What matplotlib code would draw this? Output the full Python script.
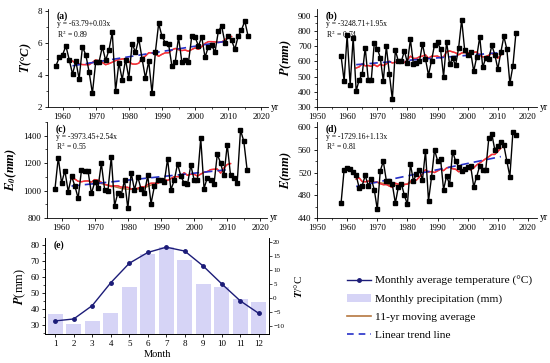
import numpy as np
import matplotlib
matplotlib.use("Agg")
import matplotlib.pyplot as plt
from matplotlib.lines import Line2D
from matplotlib.patches import Patch
from matplotlib.ticker import MultipleLocator

plt.rcParams['font.family'] = ['Liberation Serif', 'DejaVu Serif']
plt.rcParams['mathtext.fontset'] = 'stix'

years = np.arange(1958, 2017)

# annual mean temperature (°C)
T = [4.55, 5.1, 5.25, 5.8, 4.95, 4.05, 4.85, 3.75, 5.75, 5.25,
     4.2, 2.85, 4.8, 4.8, 5.75, 4.9, 5.55, 6.65, 3.0, 4.75,
     3.7, 4.95, 3.8, 5.95, 5.4, 6.25, 5.0, 3.8, 4.85, 2.85,
     5.4, 7.2, 6.4, 6.0, 5.9, 4.55, 4.8, 6.35, 4.8, 4.9,
     4.8, 6.4, 6.35, 5.8, 6.35, 5.1, 5.75, 5.85, 5.4, 6.7,
     7.05, 6.0, 6.4, 6.15, 5.6, 6.4, 6.8, 7.35, 6.4]

# annual precipitation (mm)
P = [635, 470, 772, 445, 757, 405, 480, 515, 690, 480,
     475, 720, 685, 625, 470, 700, 520, 350, 675, 600,
     600, 670, 590, 745, 580, 590, 600, 715, 615, 510,
     605, 710, 725, 680, 500, 730, 580, 620, 575, 690,
     875, 675, 640, 660, 535, 630, 762, 560, 625, 615,
     705, 645, 550, 660, 765, 680, 455, 570, 785]

# potential evapotranspiration E0 (mm)
E0 = [1010, 1240, 1055, 1145, 992, 1105, 1035, 944, 1148, 1140,
      1140, 980, 1060, 1020, 1200, 1005, 1000, 1245, 890, 985,
      970, 1075, 870, 1130, 1005, 1100, 1010, 980, 1110, 905,
      1030, 1080, 1080, 1060, 1232, 1005, 1075, 1195, 1105, 1055,
      1045, 1185, 1080, 1080, 1380, 1015, 1095, 1075, 1045, 1265,
      1200, 1110, 1335, 1110, 1095, 1055, 1440, 1360, 1150]

# actual evapotranspiration E (mm)
E = [467, 525, 528, 526, 521, 515, 493, 497, 515, 497,
     509, 490, 455, 523, 540, 506, 505, 499, 466, 495,
     500, 480, 464, 535, 505, 518, 525, 507, 558, 470,
     512, 560, 541, 544, 490, 514, 499, 557, 540, 530,
     522, 527, 530, 531, 495, 513, 532, 525, 525, 580,
     588, 560, 567, 573, 568, 540, 513, 591, 586]

# brown 11-yr average segments where it separates from the red curve
brown_c_years = [1970, 1973, 1975, 1978, 1980, 1983, 1985, 1987, 1988]
brown_c = [1060, 1045, 1035, 1015, 1010, 1010, 1020, 1040, 1050]
brown_d_years = [1969, 1971, 1973, 1975, 1978, 1980, 1982]
brown_d = [503, 502, 500, 498, 497, 500, 504]

months = np.arange(1, 13)
P_month = [37.3, 30.8, 32.9, 37.9, 54.0, 74.8, 79.0, 70.6, 55.6, 54.0, 46.3, 44.2]
T_month = [-8.3, -7.6, -2.8, 5.4, 12.4, 16.3, 18.2, 16.8, 11.4, 5.0, -1.1, -5.6]

panels = [
    ('(a)', T, r'$\mathbfit{T}$(°C)', 'y = -63.79+0.03x', 'R$^2$ = 0.89', (2, 8.1), 2, (1955.6, 2022), 1960, None),
    ('(b)', P, r'$\mathbfit{P}$(mm)', 'y = -3248.71+1.95x', 'R$^2$ = 0.74', (300, 945), 100, (1950, 2023), 1950, None),
    ('(c)', E0, r'$\mathbfit{E_0}$(mm)', 'y = -3973.45+2.54x', 'R$^2$ = 0.55', (800, 1500), 200, (1955.6, 2022), 1960,
     (brown_c_years, brown_c)),
    ('(d)', E, r'$\mathbfit{E}$(mm)', 'y = -1729.16+1.13x', 'R$^2$ = 0.81', (440, 609), 40, (1950, 2023), 1950,
     (brown_d_years, brown_d)),
]

rects = [
    [48 / 550, 1 - 107 / 363, 220 / 550, 98 / 363],
    [317 / 550, 1 - 107 / 363, 220 / 550, 98 / 363],
    [47 / 550, 1 - 218 / 363, 220 / 550, 96 / 363],
    [317 / 550, 1 - 218 / 363, 220 / 550, 96 / 363],
]

fig = plt.figure(figsize=(5.5, 3.63), dpi=100)

red = '#ff2a3c'
brown = '#b5773f'
blue = '#2630c8'

for rect, (tag, data, ylab, eq, r2, ylim, ystep, xlim, x0, bseg) in zip(rects, panels):
    ax = fig.add_axes(rect)
    data = np.asarray(data, dtype=float)
    ma = np.convolve(data, np.ones(11) / 11, mode='valid')
    ma_years = years[5:-5]
    k, b = np.polyfit(years, data, 1)
    ax.plot(ma_years, ma, color=brown, lw=1.0, zorder=2)
    if bseg is not None:
        ax.plot(bseg[0], bseg[1], color=brown, lw=1.0, zorder=2)
    ax.plot(ma_years, ma, color=red, lw=1.0, zorder=3)
    ax.plot(ma_years, k * ma_years + b, color=blue, lw=1.2, ls=(0, (5, 3)), zorder=4)
    ax.plot(years, data, color='black', lw=1.0, marker='s', ms=2.6, zorder=5)
    ax.set_xlim(*xlim)
    ax.set_ylim(*ylim)
    ax.set_xticks(np.arange(x0, 2021, 10))
    ax.xaxis.set_minor_locator(MultipleLocator(5))
    ax.yaxis.set_major_locator(MultipleLocator(ystep))
    ax.yaxis.set_minor_locator(MultipleLocator(ystep / 2))
    ax.tick_params(labelsize=6.5, length=2.5, width=0.6, pad=1.5)
    ax.tick_params(which='minor', length=1.5, width=0.5)
    for s in ['top', 'right']:
        ax.spines[s].set_visible(False)
    for s in ['left', 'bottom']:
        ax.spines[s].set_linewidth(0.6)
    ax.set_ylabel(ylab, fontsize=9, fontweight='bold', fontstyle='italic', labelpad=3)
    ax.text(0.04, 0.93, tag, transform=ax.transAxes, fontsize=7, fontweight='bold', va='center')
    ax.text(0.04, 0.845, eq, transform=ax.transAxes, fontsize=5.5, va='center')
    ax.text(0.04, 0.745, r2, transform=ax.transAxes, fontsize=5.5, va='center')
    ax.text(1.015, 0.0, 'yr', transform=ax.transAxes, fontsize=7, va='center', ha='left')

# panel (e)
axe = fig.add_axes([45 / 550, 1 - 334 / 363, 224 / 550, 96 / 363])
axe.bar(months, P_month, width=0.8, color='#d6d4f6', zorder=1)
axe.set_ylim(24.5, 84.5)
axe.set_xlim(0.45, 12.55)
axe.set_xticks(months)
axe.yaxis.set_major_locator(MultipleLocator(10))
axe.yaxis.set_minor_locator(MultipleLocator(5))
axe.set_ylabel(r'$\mathbfit{P}$(mm)', fontsize=9, labelpad=2)
axe.set_xlabel('Month', fontsize=7.5, labelpad=2)
axe.tick_params(labelsize=6.5, length=2.5, width=0.6, pad=1.5)
axe.tick_params(which='minor', length=1.5, width=0.5)
axe.spines['top'].set_visible(False)
axe.text(0.04, 0.93, '(e)', transform=axe.transAxes, fontsize=7, fontweight='bold', va='center')

axt = axe.twinx()
axt.plot(months, T_month, color='#1c1c78', lw=1.0, marker='o', ms=2.5, zorder=3)
axt.set_ylim(-13, 21.5)
axt.yaxis.set_major_locator(MultipleLocator(5))
axt.tick_params(labelsize=5, length=2, width=0.5, pad=1)
axt.spines['top'].set_visible(False)
axt.set_ylabel(r'$\mathbfit{T}$/°C', fontsize=8, labelpad=6)
for s in ['left', 'bottom', 'right']:
    axe.spines[s].set_linewidth(0.6)
    axt.spines[s].set_linewidth(0.6)

handles = [
    Line2D([], [], color='#1c1c78', lw=1.0, marker='o', ms=2.5),
    Patch(facecolor='#d6d4f6', edgecolor='none'),
    Line2D([], [], color=brown, lw=1.2),
    Line2D([], [], color=blue, lw=1.2, ls=(0, (4, 3))),
]
labels = ['Monthly average temperature (°C)', 'Monthly precipitation (mm)',
          '11-yr moving average', 'Linear trend line']
fig.legend(handles, labels, loc='upper left', bbox_to_anchor=(0.612, 0.268),
           frameon=False, fontsize=8.2, handlelength=2.1, handletextpad=0.35,
           labelspacing=0.68)

fig.savefig('out.png', dpi=100)
